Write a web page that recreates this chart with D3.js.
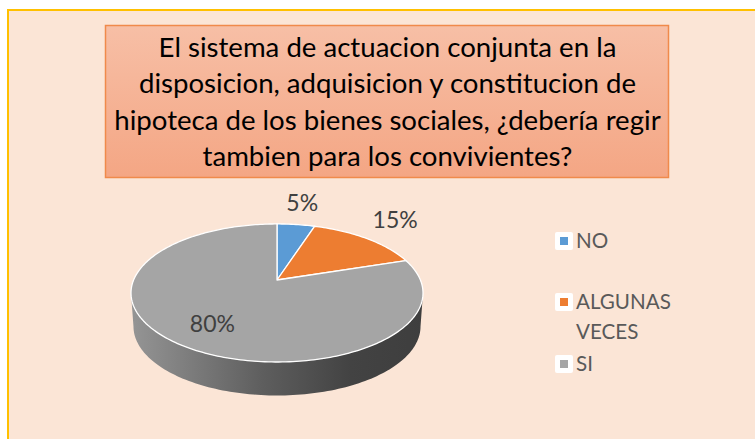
<!DOCTYPE html>
<html>
<head>
<meta charset="utf-8">
<script src="https://cdn.jsdelivr.net/npm/d3@7"></script>
<style>
  html, body { margin: 0; padding: 0; background: #fff; }
  text { font-family: Lato, "Open Sans", sans-serif; }
</style>
</head>
<body>
<div id="chart"></div>
<script>
// data
var categories = ["NO", "ALGUNAS VECES", "SI"]
var values = [5, 15, 80]
var labels = ["5%", "15%", "80%"]
var colors = ["#5B9BD5", "#ED7D31", "#A5A5A5"]
var titleLines = [
  "El sistema de actuacion conjunta en la",
  "disposicion, adquisicion y constitucion de",
  "hipoteca de los bienes sociales, ¿debería regir",
  "tambien para los convivientes?"
]

var width = 755, height = 439

var svg = d3.select("#chart").append("svg")
    .attr("width", width)
    .attr("height", height)
    .style("display", "block")

var defs = svg.append("defs")

var titleGrad = defs.append("linearGradient").attr("id", "titleGrad")
    .attr("x1", 0).attr("y1", 0).attr("x2", 0).attr("y2", 1)
titleGrad.append("stop").attr("offset", "0%").attr("stop-color", "#F7BFA6")
titleGrad.append("stop").attr("offset", "100%").attr("stop-color", "#F4A684")

var wallGrad = defs.append("linearGradient").attr("id", "wallGrad")
    .attr("x1", 0).attr("y1", 0).attr("x2", 1).attr("y2", 0)
wallGrad.append("stop").attr("offset", "0%").attr("stop-color", "#959595")
wallGrad.append("stop").attr("offset", "45%").attr("stop-color", "#5E5E5E")
wallGrad.append("stop").attr("offset", "75%").attr("stop-color", "#434343")
wallGrad.append("stop").attr("offset", "100%").attr("stop-color", "#3E3E3E")

// page background with the yellow frame on top and left
svg.append("rect")
    .attr("width", width).attr("height", height)
    .attr("fill", "#fff")
svg.append("rect")
    .attr("x", 7).attr("y", 9)
    .attr("width", width - 7).attr("height", height - 9)
    .attr("fill", "#FBE5D6")
svg.append("rect")
    .attr("x", 7).attr("y", 9)
    .attr("width", width - 7).attr("height", 2)
    .attr("fill", "#FFC000")
svg.append("rect")
    .attr("x", 7).attr("y", 9)
    .attr("width", 2).attr("height", height - 9)
    .attr("fill", "#FFC000")

// title box
svg.append("rect")
    .attr("x", 105.5).attr("y", 25.5)
    .attr("width", 563).attr("height", 152)
    .attr("fill", "url(#titleGrad)")
    .attr("stroke", "#F08A4B")
    .attr("stroke-width", 1.5)

var titleY = d3.scalePoint().domain(d3.range(titleLines.length)).range([57, 166])

svg.append("g").selectAll("text")
    .data(titleLines)
  .enter().append("text")
    .attr("x", 387.5)
    .attr("y", function(d, i) { return titleY(i); })
    .attr("text-anchor", "middle")
    .attr("font-size", 27.6)
    .attr("fill", "#000")
    .text(function(d) { return d; })

// perspective projection of the pie disc: angle 0 is up, far side is smaller
var cx = 277, cy = 280, rx = 143.4, ry = 66.6, persp = 0.188
var depth = 33.5, shrink = 0.983

function project(a, s, dy) {
  var w = 1 + persp * Math.cos(a)
  return [cx + s * rx * Math.sin(a) / w, cy + dy - ry * Math.cos(a) / w]
}

var line = d3.line()

// angles where the disc reaches its left and right edge
var edge = Math.acos(-persp)
var wallStart = edge, wallEnd = 2 * Math.PI - edge

var wallAngles = d3.range(wallStart, wallEnd + 0.001, (wallEnd - wallStart) / 120)
var wallPts = wallAngles.map(function(a) { return project(a, 1, 0); })
    .concat(wallAngles.slice().reverse().map(function(a) { return project(a, shrink, depth); }))

svg.append("path")
    .attr("d", line(wallPts) + "Z")
    .attr("fill", "url(#wallGrad)")

// top face slices
var pie = d3.pie().sort(null).value(function(d) { return d; })
var arcs = pie(values)

function slicePts(d) {
  var n = Math.max(2, Math.ceil((d.endAngle - d.startAngle) / 0.02))
  var pts = [[cx, cy]]
  for (var i = 0; i <= n; i++) {
    pts.push(project(d.startAngle + (d.endAngle - d.startAngle) * i / n, 1, 0))
  }
  return pts
}

svg.append("g").selectAll("path")
    .data(arcs)
  .enter().append("path")
    .attr("d", function(d) { return line(slicePts(d)) + "Z"; })
    .attr("fill", function(d, i) { return colors[i]; })
    .attr("stroke", "#fff")
    .attr("stroke-width", 1.3)
    .attr("stroke-linejoin", "round")

// value labels, placed from the slice mid angle
var labelRadius = [1.36, 1.27, 0.72]
var labelShift = [[-0.5, -1.5], [4.5, -7], [7, -1.5]]

svg.append("g").selectAll("text")
    .data(arcs)
  .enter().append("text")
    .attr("x", function(d, i) {
      var a = (d.startAngle + d.endAngle) / 2, w = 1 + persp * Math.cos(a)
      return cx + labelRadius[i] * rx * Math.sin(a) / w + labelShift[i][0]
    })
    .attr("y", function(d, i) {
      var a = (d.startAngle + d.endAngle) / 2, w = 1 + persp * Math.cos(a)
      return cy - labelRadius[i] * ry * Math.cos(a) / w + 8 + labelShift[i][1]
    })
    .attr("text-anchor", "middle")
    .attr("font-size", 23)
    .attr("fill", "#404040")
    .text(function(d, i) { return labels[i]; })

// legend
var legendY = d3.scaleOrdinal().domain(categories).range([241, 302, 364])

var legend = svg.append("g").selectAll("g")
    .data(categories)
  .enter().append("g")
    .attr("transform", function(d) { return "translate(555," + legendY(d) + ")"; })

legend.append("rect")
    .attr("x", 0).attr("y", -9)
    .attr("width", 18).attr("height", 18)
    .attr("rx", 2)
    .attr("fill", "#fff")

legend.append("rect")
    .attr("x", 5).attr("y", -4)
    .attr("width", 8).attr("height", 8)
    .attr("fill", function(d, i) { return colors[i]; })

legend.append("text")
    .attr("x", 21)
    .attr("y", 7)
    .attr("font-size", 20.6)
    .attr("fill", "#595959")
    .each(function(d) {
      var t = d3.select(this)
      d.split(" ").forEach(function(word, i) {
        t.append("tspan").attr("x", 21).attr("dy", i ? 30 : 0).text(word)
      })
    })
</script>
</body>
</html>
